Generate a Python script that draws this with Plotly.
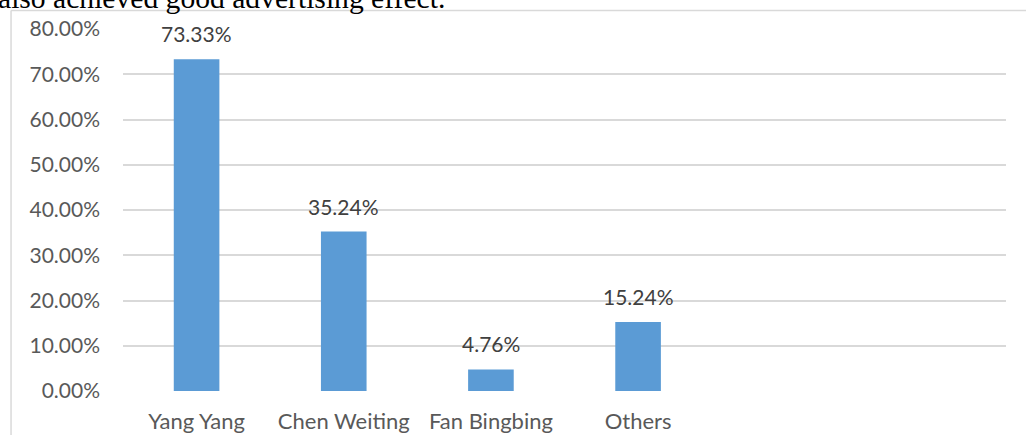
import plotly.graph_objects as go

categories = ["Yang Yang", "Chen Weiting", "Fan Bingbing", "Others"]
values = [0.7333, 0.3524, 0.0476, 0.1524]
value_labels = ["73.33%", "35.24%", "4.76%", "15.24%"]
tick_vals = [0, 0.1, 0.2, 0.3, 0.4, 0.5, 0.6, 0.7, 0.8]
tick_text = ["0.00%", "10.00%", "20.00%", "30.00%", "40.00%", "50.00%", "60.00%", "70.00%", "80.00%"]
header_text = "also achieved good advertising effect."

FONT = "Lato"
fig = go.Figure()
fig.add_trace(go.Bar(x=categories, y=values, marker_color="#5b9bd5",
                     marker_line_width=0, hoverinfo="skip"))

for c, v, t in zip(categories, values, value_labels):
    fig.add_annotation(x=c, y=v, text=t, showarrow=False, yanchor="bottom",
                       yshift=11, font=dict(family=FONT, size=21, color="#404040"))

fig.add_annotation(xref="paper", yref="paper", x=-0.1438, y=1.0, xanchor="left",
                   yanchor="bottom", yshift=13, text=header_text, showarrow=False,
                   font=dict(family="Liberation Serif", size=29.6, color="#000000"))

# frame lines of the embedded chart
fig.add_shape(type="line", xref="paper", yref="paper", x0=-0.1268, x1=-0.1268,
              y0=1.0509, y1=-0.13, line=dict(color="#d9d9d9", width=1.5))
fig.add_shape(type="line", xref="paper", yref="paper", x0=-0.1268, x1=1.03,
              y0=1.0509, y1=1.0509, line=dict(color="#d9d9d9", width=1.5))

fig.update_layout(
    width=1026, height=435,
    margin=dict(l=123, r=20, t=29, b=44),
    paper_bgcolor="white", plot_bgcolor="white",
    bargap=0.69, showlegend=False,
    xaxis=dict(type="category", range=[-0.5, 5.5], showgrid=False, showline=False,
               ticks="", ticklabelstandoff=15, automargin=False,
               tickfont=dict(family=FONT, size=22, color="#595959")),
    yaxis=dict(range=[0, 0.8], tickvals=tick_vals, ticktext=tick_text,
               showgrid=True, gridcolor="#d9d9d9", gridwidth=1.5, zeroline=False,
               showline=False, ticks="", ticklabelstandoff=22, automargin=False,
               tickfont=dict(family=FONT, size=21, color="#595959")),
)
fig.write_html("out.html", config={"displayModeBar": False},
               post_script="document.body.style.margin='0';")
